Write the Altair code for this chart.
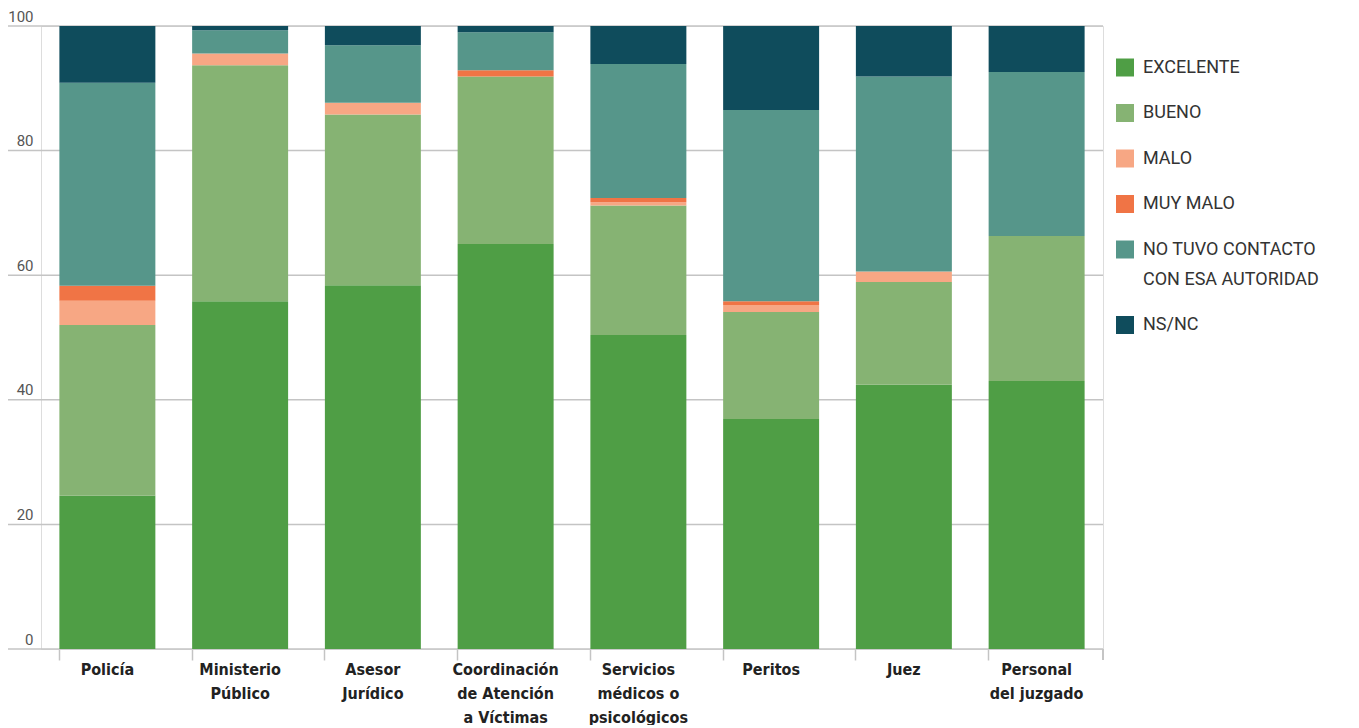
import altair as alt
import pandas as pd

categorias = ["Policía", "Ministerio|Público", "Asesor|Jurídico",
              "Coordinación|de Atención|a Víctimas", "Servicios|médicos o|psicológicos",
              "Peritos", "Juez", "Personal|del juzgado"]
respuestas = ["EXCELENTE", "BUENO", "MALO", "MUY MALO",
              "NO TUVO CONTACTO|CON ESA AUTORIDAD", "NS/NC"]
excelente = [24.6, 55.8, 58.4, 65.0, 50.4, 36.9, 42.4, 43.0]
bueno = [27.4, 37.9, 27.4, 26.9, 20.8, 17.2, 16.5, 23.3]
malo = [3.9, 1.9, 1.9, 0.0, 0.5, 1.1, 1.7, 0.0]
muy_malo = [2.4, 0.0, 0.0, 1.0, 0.7, 0.6, 0.0, 0.0]
no_tuvo = [32.6, 3.7, 9.2, 6.1, 21.5, 30.7, 31.3, 26.3]
ns_nc = [9.1, 0.7, 3.1, 1.0, 6.1, 13.5, 8.1, 7.4]
colores = ["#4f9e45", "#86b373", "#f7a784", "#f07445", "#56968a", "#0f4c5c"]
ticks_y = [0, 20, 40, 60, 80, 100]

series = [excelente, bueno, malo, muy_malo, no_tuvo, ns_nc]
rows = []
for si, (resp, vals) in enumerate(zip(respuestas, series)):
    for cat, v in zip(categorias, vals):
        rows.append({"categoria": cat, "respuesta": resp, "valor": v, "orden": si})
df = pd.DataFrame(rows)
grid_df = pd.DataFrame({"v": ticks_y})

W, H = 1062, 623
FONT = "Roboto"
CAT_FONT = "DejaVu Sans Condensed, Roboto"

grid = alt.Chart(grid_df).mark_rule(color="#c4c4c4", strokeWidth=1.5).encode(
    y=alt.Y("v:Q", scale=alt.Scale(domain=[0, 100], nice=False)),
    x=alt.value(-33), x2=alt.value(W),
)

bars = alt.Chart(df).mark_bar().encode(
    x=alt.X("categoria:N", sort=categorias, title=None,
            scale=alt.Scale(paddingInner=0.277, paddingOuter=0.1385),
            axis=alt.Axis(bandPosition=0, domain=False, ticks=True, tickSize=11,
                          tickColor="#c4c4c4", tickWidth=1.5, labelAngle=0,
                          labelPadding=1, labelFont=CAT_FONT, labelFontWeight="bold",
                          labelFontSize=16, labelColor="#222222", labelLineHeight=24,
                          labelBaseline="top", labelExpr="split(datum.label, '|')")),
    y=alt.Y("valor:Q", stack="zero", title=None,
            scale=alt.Scale(domain=[0, 100], nice=False),
            axis=alt.Axis(values=ticks_y, grid=False, domain=False, ticks=False,
                          labelAlign="right", labelBaseline="bottom", labelOffset=-2,
                          labelPadding=8, labelFont=FONT, labelFontSize=15,
                          labelColor="#555555")),
    color=alt.Color("respuesta:N", sort=respuestas,
                    scale=alt.Scale(domain=respuestas, range=colores),
                    legend=alt.Legend(title=None, orient="none", legendX=1075, legendY=32.5,
                                      symbolType="square", symbolSize=324,
                                      symbolStrokeWidth=0, symbolOpacity=1,
                                      labelFont=FONT, labelFontSize=18, labelColor="#333333",
                                      labelOffset=9, rowPadding=27.5, labelLimit=300,
                                      labelBaseline="middle",
                                      labelExpr="split(datum.label, '|')", padding=0)),
    order=alt.Order("orden:Q", sort="ascending"),
)

last_tick = alt.Chart(grid_df).mark_rule(color="#c4c4c4", strokeWidth=1.5).encode(
    x=alt.value(W), y=alt.value(H), y2=alt.value(H + 11)
)

chart = alt.layer(grid, bars, last_tick).properties(
    width=W, height=H,
    padding={"left": 33, "top": 18, "right": 248, "bottom": 76},
    autosize=alt.AutoSizeParams(type="none"),
).configure_view(stroke=None).configure(
    background="white", style={"guide-label": {"lineHeight": 30}}
)

chart.save("out.html", embed_options={"renderer": "svg", "actions": False})
